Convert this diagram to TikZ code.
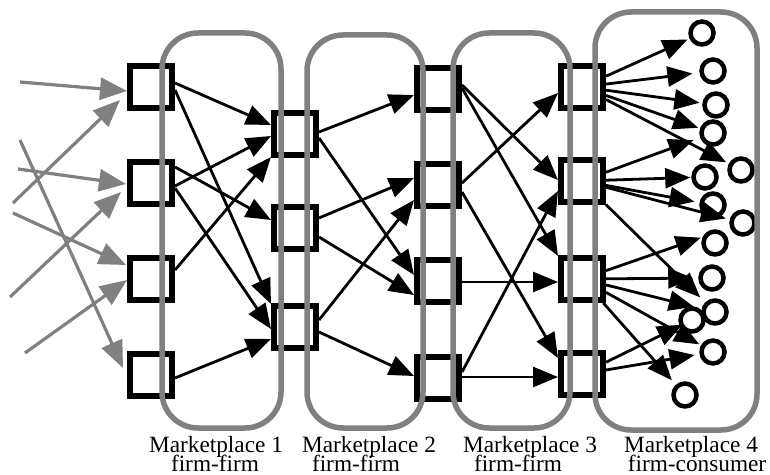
\documentclass[tikz,border=0pt]{standalone}
\usepackage{fontspec}
\setmainfont{Liberation Serif}
\usetikzlibrary{arrows.meta,calc}
\definecolor{frame}{RGB}{128,128,128}
\begin{document}
\begin{tikzpicture}[x=1bp,y=-1bp,
  firm/.style={draw, line width=6bp, minimum size=42bp, inner sep=0pt},
  consumer/.style={draw, circle, line width=4.5bp, minimum size=23bp, inner sep=0pt},
  market/.style={draw=frame, line width=5.5bp, rounded corners=36bp},
  flow/.style={line width=2.8bp, -{Triangle[length=25bp,width=20bp]}},
  supply/.style={draw=frame, line width=3.2bp, -{Triangle[length=27bp,width=22bp]}},
  lab/.style={font=\fontsize{23.3bp}{19bp}\selectfont, anchor=base, inner sep=0pt}]
\useasboundingbox (0,0) rectangle (770,475);

% firms, one column per tier
\node[firm] (A1) at (151,87) {};
\node[firm] (A2) at (151,183) {};
\node[firm] (A3) at (151,279) {};
\node[firm] (A4) at (151,375) {};
\node[firm] (B1) at (295,134) {};
\node[firm] (B2) at (295,228) {};
\node[firm] (B3) at (295,327) {};
\node[firm] (C1) at (438,89) {};
\node[firm] (C2) at (438,185) {};
\node[firm] (C3) at (438,281) {};
\node[firm] (C4) at (438,378) {};
\node[firm] (D1) at (582,87) {};
\node[firm] (D2) at (582,181) {};
\node[firm] (D3) at (582,279) {};
\node[firm] (D4) at (582,374) {};

% consumers
\node[consumer] (c1) at (702,33) {};
\node[consumer] (c2) at (713,71) {};
\node[consumer] (c3) at (716,105) {};
\node[consumer] (c4) at (713,133) {};
\node[consumer] (c5) at (741,170) {};
\node[consumer] (c6) at (705,177) {};
\node[consumer] (c7) at (713,205) {};
\node[consumer] (c8) at (743,223) {};
\node[consumer] (c9) at (715,243) {};
\node[consumer] (c10) at (712,278) {};
\node[consumer] (c11) at (715,312) {};
\node[consumer] (c12) at (692,320) {};
\node[consumer] (c13) at (713,352) {};
\node[consumer] (c14) at (685,395) {};

% marketplaces
\draw[market] (162,33) rectangle (281,428);
\draw[market] (307,35) rectangle (423,428);
\draw[market] (453,33) rectangle (570,428);
\draw[market] (595,12) rectangle (757,430);

% incoming supply
\coordinate (s1) at (20,82);
\coordinate (s2) at (13,203);
\coordinate (s3) at (18,169);
\coordinate (s4) at (10,297);
\coordinate (s5) at (13,213);
\coordinate (s6) at (25,353);
\coordinate (s7) at (20,140);
\draw[supply] (s1) -- ($(A1.west)+(0,4)$);
\draw[supply] (s2) -- ($(A1.west)+(-7,13)$);
\draw[supply] (s3) -- ($(A2.west)+(-1,1)$);
\draw[supply] (s4) -- ($(A2.west)+(-6,9)$);
\draw[supply] (s5) -- ($(A3.west)+(-1,-14)$);
\draw[supply] (s6) -- ($(A3.west)+(0,1)$);
\draw[supply] (s7) -- ($(A4.west)+(-4,-7)$);

% marketplace 1
\draw[flow] ($(A1.east)+(0,-4)$) -- ($(B1.west)+(0,-9)$);
\draw[flow] ($(A1.east)+(0,3)$) -- ($(B3.north west)+(0,1)$);
\draw[flow] ($(A2.east)+(0,3)$) -- ($(B1.west)+(0,2)$);
\draw[flow] ($(A2.east)+(0,-16)$) -- ($(B2.west)+(0,-8)$);
\draw[flow] ($(A2.east)+(0,5)$) -- ($(B3.west)+(0,2)$);
\draw[flow] ($(A3.east)+(0,-9)$) -- ($(B1.south west)+(0,-1)$);
\draw[flow] ($(A4.east)+(0,3)$) -- ($(B3.west)+(0,12)$);

% marketplace 2
\draw[flow] ($(B1.east)+(0,-2)$) -- ($(C1.west)+(0,6)$);
\draw[flow] ($(B1.east)+(0,4)$) -- ($(C3.west)+(0,-6)$);
\draw[flow] ($(B2.east)+(0,-10)$) -- ($(C2.west)+(0,-7)$);
\draw[flow] ($(B2.east)+(0,9)$) -- ($(C3.west)+(0,14)$);
\draw[flow] ($(B3.east)+(0,-7)$) -- ($(C2.west)+(0,15)$);
\draw[flow] ($(B3.east)+(0,5)$) -- ($(C4.west)+(0,-2)$);

% marketplace 3
\draw[flow] ($(C1.east)+(0,-4)$) -- ($(D2.west)+(0,-1)$);
\draw[flow] ($(C1.east)+(0,-1)$) -- ($(D3.north west)+(0,1)$);
\draw[flow] ($(C2.east)+(0,-2)$) -- ($(D1.west)+(0,6)$);
\draw[flow] ($(C2.east)+(0,7)$) -- ($(D4.west)+(0,-16)$);
\draw[flow] ($(C3.east)+(0,1)$) -- ($(D3.west)+(0,3)$);
\draw[flow] ($(C4.east)+(0,-6)$) -- ($(D2.west)+(0,10)$);
\draw[flow] ($(C4.east)+(0,-1)$) -- ($(D4.west)+(0,3)$);

% marketplace 4
\draw[flow, shorten >=2bp] (D1) -- (c1);
\draw[flow, shorten >=7bp] (D1) -- (c2);
\draw[flow, shorten >=3bp] (D1) -- (c3);
\draw[flow, shorten >=2bp] (D1) -- (c4);
\draw[flow, shorten >=3bp] (D1) -- (c5);
\draw[flow, shorten >=7bp] (D2) -- (c4);
\draw[flow, shorten >=1bp] (D2) -- (c6);
\draw[flow, shorten >=5bp] (D2) -- (c7);
\draw[flow, shorten >=4bp] (D2) -- (c8);
\draw[flow, shorten >=7bp] (D2) -- (c11);
\draw[flow, shorten >=31bp] (D3) -- (c8);
\draw[flow, shorten >=5bp] (D3) -- (c10);
\draw[flow, shorten >=8bp] (D3) -- (c11);
\draw[flow, shorten >=2bp] (D3) -- (c13);
\draw[flow, shorten >=6bp] (D3) -- (c14);
\draw[flow, shorten >=-3bp] (D4) -- (c12);
\draw[flow, shorten >=5bp] (D4) -- (c13);

% captions
\node[lab] (l1a) at (216,452) {Marketplace 1};
\node[lab] (l1b) at (215,471) {firm-firm};
\node[lab] (l2a) at (369,452) {Marketplace 2};
\node[lab] (l2b) at (356,471) {firm-firm};
\node[lab] (l3a) at (530,452) {Marketplace 3};
\node[lab] (l3b) at (518,471) {firm-firm};
\node[lab] (l4a) at (691,452) {Marketplace 4};
\node[lab] (l4b) at (697,471) {firm-consumer};
\end{tikzpicture}
\end{document}
